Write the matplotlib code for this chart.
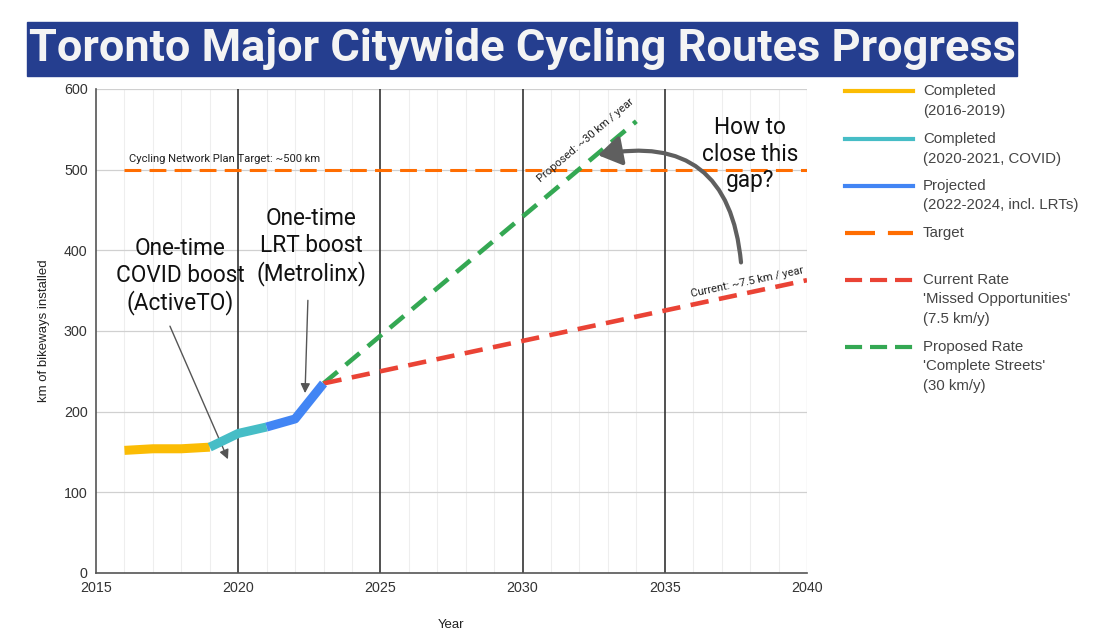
import matplotlib
matplotlib.use("Agg")
import matplotlib.pyplot as plt
from matplotlib.lines import Line2D
from matplotlib.patches import Rectangle

# ---- data ----
years_completed = [2016, 2017, 2018, 2019]
km_completed = [152, 154, 154, 156]
years_covid = [2019, 2020, 2021]
km_covid = [156, 173, 181]
years_projected = [2021, 2022, 2023]
km_projected = [181, 191, 235]
target_years = [2016, 2040]
target_km = [500, 500]
current_years = [2023, 2040]
current_km = [235, 363]
proposed_years = [2023, 2034]
proposed_km = [235, 560]

legend_labels = [
    "Completed\n(2016-2019)",
    "Completed\n(2020-2021, COVID)",
    "Projected\n(2022-2024, incl. LRTs)",
    "Target",
    "Current Rate\n'Missed Opportunities'\n(7.5 km/y)",
    "Proposed Rate\n'Complete Streets'\n(30 km/y)",
]

C_YELLOW = "#FBBC04"
C_CYAN = "#46BDC6"
C_BLUE = "#4285F4"
C_ORANGE = "#FF6D01"
C_RED = "#EA4335"
C_GREEN = "#34A853"

plt.rcParams['font.family'] = ['Roboto', 'DejaVu Sans']
ARIAL = ['Liberation Sans', 'DejaVu Sans']

fig = plt.figure(figsize=(11, 6.43), dpi=100)
ax = fig.add_axes([96/1100, 70/643, (807-96)/1100, (573-89)/643])

ax.set_xlim(2015, 2040)
ax.set_ylim(0, 600)

# grid
for yr in range(2016, 2040):
    if yr % 5 != 0:
        ax.axvline(yr, color="#eeeeee", lw=0.8, zorder=0)
for yv in range(100, 601, 100):
    ax.axhline(yv, color="#d0d0d0", lw=0.9, zorder=0)
for yr in [2020, 2025, 2030, 2035]:
    ax.axvline(yr, color="#333333", lw=1.2, zorder=1)
ax.axvline(2040, color="#d0d0d0", lw=0.9, zorder=0)

for s in ["top", "right"]:
    ax.spines[s].set_visible(False)
ax.spines["left"].set_color("#555555")
ax.spines["bottom"].set_color("#555555")
ax.spines["left"].set_linewidth(1.2)
ax.spines["bottom"].set_linewidth(1.2)
ax.set_xticks([2015, 2020, 2025, 2030, 2035, 2040])
ax.set_yticks(range(0, 601, 100))
ax.tick_params(length=0, labelsize=10.3, colors="#333333", pad=6)
for lbl in ax.get_xticklabels() + ax.get_yticklabels():
    lbl.set_family(ARIAL)
ax.set_xlabel("Year", fontsize=9.5, color="#222222", labelpad=17, family=ARIAL)
ax.set_ylabel("km of bikeways installed", fontsize=9.5, color="#222222", labelpad=10,
              family=ARIAL)

# series
ax.plot(target_years, target_km, color=C_ORANGE, lw=2.2, dashes=(5.5, 2.7), zorder=3)
ax.plot(proposed_years, proposed_km, color=C_GREEN, lw=3.3, dashes=(4, 2.3), zorder=3)
ax.plot(current_years, current_km, color=C_RED, lw=3.3, dashes=(4, 2.3), zorder=3)
ax.plot(years_completed, km_completed, color=C_YELLOW, lw=6.5, solid_capstyle="butt", zorder=4)
ax.plot(years_covid, km_covid, color=C_CYAN, lw=6.5, solid_capstyle="butt", zorder=4)
ax.plot(years_projected, km_projected, color=C_BLUE, lw=6.5, solid_capstyle="butt", zorder=4)

# text annotations
ax.text(2016.16, 513, "Cycling Network Plan Target: ~500 km", fontsize=8.1,
        color="#222222", ha="left", va="center")
ax.text(2032.2, 536, "Proposed: ~30 km / year", fontsize=8.1, rotation=40.4,
        rotation_mode="anchor", ha="center", va="center", color="#222222")
ax.text(2037.9, 361, "Current: ~7.5 km / year", fontsize=8.1, rotation=12,
        rotation_mode="anchor", ha="center", va="center", color="#222222")

big = dict(fontsize=16.3, ha="center", va="center", color="#111111", linespacing=1.2)
ax.text(2017.95, 368, "One-time\nCOVID boost\n(ActiveTO)", **big)
ax.text(2022.56, 405, "One-time\nLRT boost\n(Metrolinx)", **big)
ax.text(2038.0, 519, "How to\nclose this\ngap?", **big)

ax.annotate("", xy=(2019.64, 141), xytext=(2017.6, 306),
            arrowprops=dict(arrowstyle="-|>", color="#555555", lw=1.0,
                            mutation_scale=14, shrinkA=0, shrinkB=0))
ax.annotate("", xy=(2022.35, 223), xytext=(2022.45, 338),
            arrowprops=dict(arrowstyle="-|>", color="#555555", lw=1.0,
                            mutation_scale=14, shrinkA=0, shrinkB=0))
ax.annotate("", xy=(2032.65, 518), xytext=(2037.68, 385),
            arrowprops=dict(arrowstyle="-|>,head_length=0.7,head_width=0.45",
                            color="#5f5f5f", lw=3,
                            connectionstyle="arc3,rad=0.55",
                            mutation_scale=20, shrinkA=0, shrinkB=0))

# title
fig.patches.append(Rectangle((27/1100, 1-76/643), (1017-27)/1100, (76-22)/643,
                             transform=fig.transFigure, color="#253E8F", zorder=0))
fig.text(522/1100, 1-49/643, "Toronto Major Citywide Cycling Routes Progress",
         fontsize=32.5, fontweight="bold", color="#f4f4f4", ha="center", va="center")

# legend (manual)
styles = [
    dict(color=C_YELLOW, lw=3),
    dict(color=C_CYAN, lw=3),
    dict(color=C_BLUE, lw=3),
    dict(color=C_ORANGE, lw=3, dashes=(7.2, 3.1)),
    dict(color=C_RED, lw=3, dashes=(4.1, 1.9)),
    dict(color=C_GREEN, lw=3, dashes=(4.1, 1.9)),
]
ys = [91, 139, 186, 233, 280, 347]
for lab, st, yp in zip(legend_labels, styles, ys):
    fy = 1 - yp/643
    fig.add_artist(Line2D([845/1100, 913/1100], [fy, fy], transform=fig.transFigure, **st))
    fig.text(923/1100, 1-(yp-7)/643, lab, fontsize=10.8, color="#444444",
             ha="left", va="top", linespacing=1.5, family=ARIAL)

fig.savefig("out.png", dpi=100)
